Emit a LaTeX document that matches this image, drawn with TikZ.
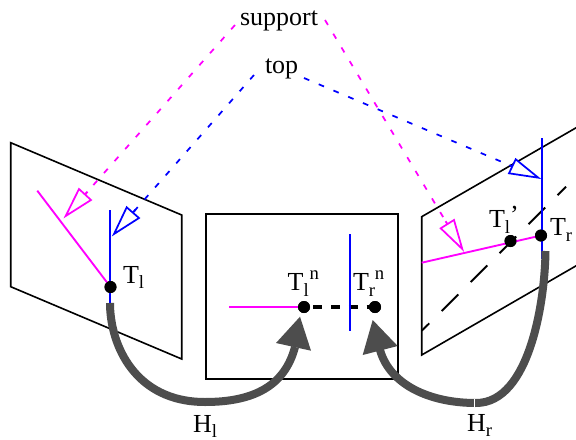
\documentclass[tikz,border=0pt]{standalone}
\usepackage{fontspec}
\setmainfont{Liberation Serif}
\newcommand{\bigtxt}{\fontsize{19.5}{22}\selectfont}
\newcommand{\smalltxt}{\fontsize{14}{16}\selectfont}
\newcommand{\subs}[1]{\raisebox{-4pt}{\smalltxt #1}}
\newcommand{\subsup}[2]{\rlap{\subs{#1}}\hspace{4.5pt}\raisebox{8.6pt}{\smalltxt #2}}
\definecolor{heavy}{HTML}{4D4D4D}
\definecolor{mag}{HTML}{FF00FF}
\definecolor{blu}{HTML}{0000FF}
\tikzset{
 plane/.style={draw=black,line width=1.2pt,line join=miter},
 seg/.style={line width=1.4pt},
 ray/.style={line width=1.3pt,dash pattern=on 4.3pt off 7.7pt},
 head/.style={line width=1.3pt,line join=miter},
 txt/.style={inner sep=0pt,outer sep=0pt,anchor=base west,font=\bigtxt},
 dotn/.style={circle,fill=black,inner sep=0pt,minimum size=9pt},
 heavyline/.style={draw=heavy,line width=6pt},
 heavyhead/.style={fill=heavy,draw=none},
}
\begin{document}
\begin{tikzpicture}[x=0.75pt,y=-0.75pt]
\useasboundingbox (0,0) rectangle (576,440);
\fill[white] (0,0) rectangle (576,440);
\clip (0,0) rectangle (576,440);
% planes
\draw[plane] (10.7,142.7) -- (181.7,215) -- (181.7,359) -- (10.7,286.7) -- cycle;
\draw[plane] (205.7,214) rectangle (397.7,379);
\draw[plane] (600,114) -- (421.7,216.7) -- (421.7,355) -- (600,252);
% text
\node[txt] (support) at (240,25) {support};
\node[txt] (top) at (265,73) {top};
\node[txt] (Tl) at (123,283) {T\subs{l}};
\node[txt] (Tr) at (550,235.7) {T\subs{r}};
\node[txt] (Tlp) at (489,227.7) {T\rlap{\subs{l}}\hspace{4pt}\raisebox{3pt}{’}};
\node[txt] (Tln) at (287.7,290.7) {T\subsup{l}{n}};
\node[txt] (Trn) at (353,290.7) {T\subsup{r}{n}};
\node[txt] (Hl) at (193,432) {H\subs{l}};
\node[txt] (Hr) at (467,431.5) {H\subs{r}};
% dots
\node[dotn] (dTl) at (110.5,287) {};
\node[dotn] (dTlp) at (510.5,241) {};
\node[dotn] (dTr) at (541,235.5) {};
\node[dotn] (dTln) at (304,307) {};
\node[dotn] (dTrn) at (375,307) {};
% named ends
\coordinate (mS) at (37.3,190.7);
\coordinate (bS) at (110,210);
\coordinate (bE) at (110,303);
\coordinate (mR) at (421.7,262.7);
\coordinate (bRa) at (541.7,138);
\coordinate (bRb) at (541.7,259);
\coordinate (mN) at (229,307);
\coordinate (bNa) at (349.7,234.3);
\coordinate (bNb) at (349.7,331);
% dashed black trace
\draw[seg] (421.7,330.7) -- (429.3,323.3);
\draw[seg,dash pattern=on 17.6pt off 13.1pt] (441.7,311) -- (566,186.7);
% coloured lines
\draw[seg,mag] (mS) -- (dTl.center);
\draw[seg,blu] (bS) -- (bE);
\draw[seg,mag] (mR) -- (dTr.center);
\draw[seg,blu] (bRa) -- (bRb);
\draw[seg,mag] (mN) -- (dTln.center);
\draw[line width=2.3pt,dash pattern=on 6.8pt off 6.5pt,dash phase=-7pt] (dTln.center) -- (dTrn.center);
\draw[seg,blu] (bNa) -- (bNb);
\node[dotn] at (dTl) {};
\node[dotn] at (dTlp) {};
\node[dotn] at (dTr) {};
\node[dotn] at (dTln) {};
\node[dotn] at (dTrn) {};
% rays
\coordinate (r1) at (235,25);
\coordinate (r1e) at (85,194.5);
\coordinate (r2) at (254,75);
\coordinate (r2e) at (133,212.5);
\coordinate (r3) at (325,20);
\coordinate (r3e) at (447.3,224);
\coordinate (r4) at (304,78);
\coordinate (r4e) at (512.3,166.3);
\draw[ray,mag] (r1) -- (r1e);
\draw[ray,blu] (r2) -- (r2e);
\draw[ray,mag] (r3) -- (r3e);
\draw[ray,blu] (r4) -- (r4e);
% hollow heads
\draw[head,mag,fill=white] (65.7,216) -- (79,189) -- (91,200) -- cycle;
\draw[head,blu,fill=white] (114,234) -- (126.7,207.3) -- (139,218) -- cycle;
\draw[head,mag,fill=white] (462.3,249) -- (440.7,228.3) -- (454,220) -- cycle;
\draw[head,blu,fill=white] (538.3,177.7) -- (509,173.3) -- (515.7,159.3) -- cycle;
% ticks at heads
\draw[seg,mag] (85,194.5) -- (87.5,191.7);
\draw[seg,blu] (133,212.5) -- (135.5,209.7);
\draw[seg,mag] (447.3,224) -- (445.6,221.2);
\draw[seg,blu] (512.3,166.3) -- (509.5,165.1);
% heavy arrows
\draw[heavyline] (110,303) .. controls (110,345) and (135,402) .. (205,402)
  .. controls (255,402) and (285,385) .. (295,347);
\fill[heavyhead] (300,316.7) -- (276,343) -- (311,350.7) -- cycle;
\draw[heavyline] (545.5,251) .. controls (545,300) and (530,403) .. (476,403);
\draw[heavyline] (476,403) .. controls (430,403) and (390,385) .. (380,350);
\fill[heavyhead] (372.7,320) -- (362.7,355) -- (397.7,346) -- cycle;
\draw[white,line width=0.5pt] (474,399) -- (474,407);
\end{tikzpicture}
\end{document}
